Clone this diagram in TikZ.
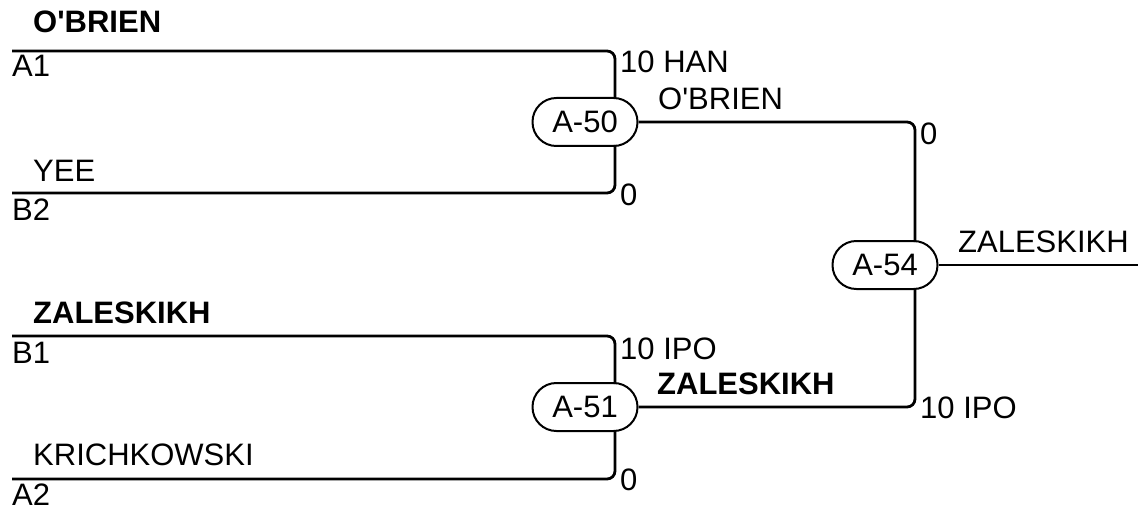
\documentclass[tikz,border=0pt]{standalone}
\usepackage{fontspec}
\setmainfont{Liberation Sans}[Ligatures=TeXOff]
\begin{document}
\begin{tikzpicture}[x=1pt,y=-1pt,
  txt/.style={anchor=base west,inner sep=0pt,font=\fontsize{31}{37}\selectfont},
  btxt/.style={txt,font=\fontsize{31}{37}\selectfont\bfseries},
  game/.style={draw,line width=2pt,minimum width=105pt,minimum height=48pt,rounded corners=23.9pt,inner sep=0pt,font=\fontsize{31}{37}\selectfont},
  wire/.style={line width=2.8pt,rounded corners=8pt}]
\useasboundingbox (0,0) rectangle (1138,508);
% matches
\node[game] (A50) at (585,122) {A-50};
\node[game] (A51) at (585,407) {A-51};
\node[game] (A54) at (885,265) {A-54};
% line ends
\coordinate (a1) at (12,51);
\coordinate (b2) at (12,193);
\coordinate (b1) at (12,336);
\coordinate (a2) at (12,479);
\coordinate (fin) at (1138,265);
% wires
\draw[wire] (a1) -- (615,51) -- (615,99);
\draw[wire] (b2) -- (615,193) -- (615,145);
\draw[wire] (b1) -- (615,336) -- (615,384);
\draw[wire] (a2) -- (615,479) -- (615,430);
\draw[wire] (A50.east) -- (915,122) -- (915,242);
\draw[wire] (A51.east) -- (915,407) -- (915,288);
\draw[wire] (A54.east) -- (fin);
% left labels
\node[btxt] (n1) at (33,33) {O'BRIEN};
\node[txt] (l1) at (12,77) {A1};
\node[txt] (n2) at (33,182) {YEE};
\node[txt] (l2) at (12,220) {B2};
\node[btxt] (n3) at (33,323) {ZALESKIKH};
\node[txt] (l3) at (12,363) {B1};
\node[txt] (n4) at (33,465) {KRICHKOWSKI};
\node[txt] (l4) at (12,505) {A2};
% scores
\node[txt] (s1) at (620,73) {10 HAN};
\node[txt] (s2) at (620,205) {0};
\node[txt] (s3) at (620,359) {10 IPO};
\node[txt] (s4) at (620,490) {0};
\node[txt] (s5) at (920,145) {0};
\node[txt] (s6) at (920,418) {10 IPO};
% winners
\node[txt] (w1) at (658,110) {O'BRIEN};
\node[btxt] (w2) at (657,394) {ZALESKIKH};
\node[txt] (w3) at (958,252) {ZALESKIKH};
\end{tikzpicture}
\end{document}
